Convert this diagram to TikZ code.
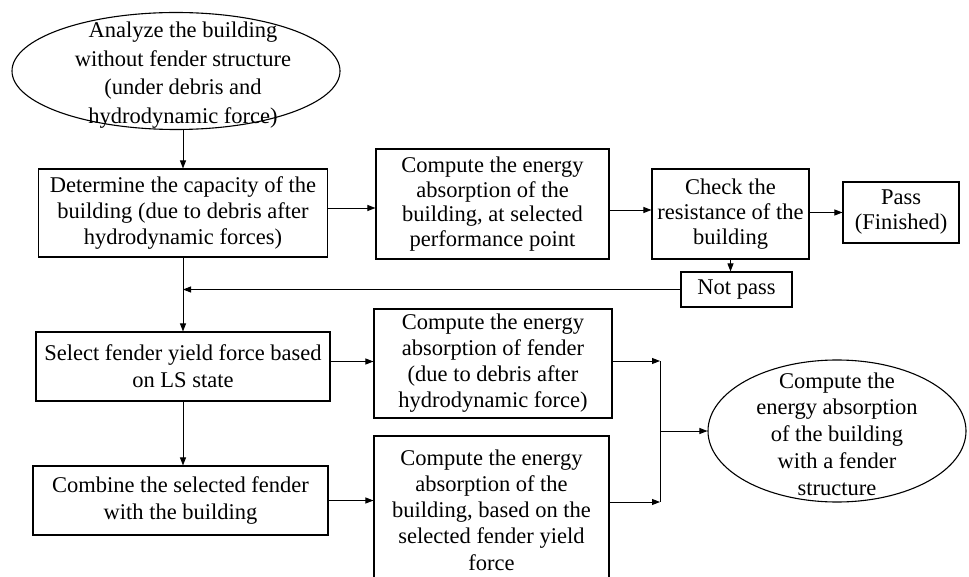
\documentclass[tikz,border=0pt]{standalone}
\usepackage{fontspec}
\setmainfont{Liberation Serif}
\usetikzlibrary{shapes.geometric,arrows.meta}
\tikzset{
  fs/.style={font=\fontsize{22.5}{#1}\selectfont},
  box/.style={draw, line width=1.1pt, inner sep=0pt, align=center},
  oval/.style={draw, ellipse, line width=1.1pt, inner sep=0pt},
  txt/.style={inner sep=0pt, align=center},
  conn/.style={line width=0.9pt},
  arr/.style={conn, -{Triangle[length=8pt,width=6pt]}}
}
\begin{document}
\begin{tikzpicture}[x=1pt,y=-1pt]
\useasboundingbox (0,0) rectangle (969,577);
% top ellipse
\node[oval, minimum width=328pt, minimum height=117pt] (e1) at (176,71) {};
\node[txt, fs=28.5] (e1t) at (183,75) {Analyze the building\\without fender structure\\(under debris and\\hydrodynamic force)};
% boxes
\node[box, fs=26, minimum width=289pt, minimum height=88pt] (b1) at (183,213) {Determine the capacity of the\\building (due to debris after\\hydrodynamic forces)};
\node[box, fs=24.5, minimum width=233pt, minimum height=110pt] (b2) at (492.5,204) {Compute the energy\\absorption of the\\building, at selected\\performance point};
\node[box, fs=25, minimum width=157pt, minimum height=90pt] (b3) at (730.5,214) {Check the\\resistance of the\\building};
\node[box, fs=25, minimum width=116pt, minimum height=61pt] (pass) at (901,212.5) {Pass\\(Finished)};
\node[box, fs=25, minimum width=111pt, minimum height=35pt] (np) at (736.5,289.5) {Not pass};
\node[box, fs=27, minimum width=294pt, minimum height=69pt] (b4) at (183,366.5) {Select fender yield force based\\on LS state};
\node[box, fs=27, minimum width=295pt, minimum height=69pt] (b5) at (180.5,500.5) {Combine the selected fender\\with the building};
\node[box, fs=26, minimum width=238pt, minimum height=109pt] (b6) at (493,363.5) {Compute the energy\\absorption of fender\\(due to debris after\\hydrodynamic force)};
\node[box, fs=26.3, minimum width=235pt, minimum height=148pt] (b7) at (491.5,510) {Compute the energy\\absorption of the\\building, based on the\\selected fender yield\\force};
% right ellipse
\node[oval, minimum width=258pt, minimum height=142pt] (e2) at (837,431) {};
\node[txt, fs=26.7] (e2t) at (837,434) {Compute the\\energy absorption\\of the building\\with a fender\\structure};
% junction coordinates
\coordinate (j1) at (660,361);
\coordinate (j2) at (660,502);
\coordinate (j3) at (660,431);
\coordinate (r23) at (0,210);
% connectors
\draw[arr] (b1.north |- e1.south) -- (b1.north);
\draw[arr] ([yshift=5pt]b1.east) -- ([yshift=5pt]b1.east -| b2.west);
\draw[arr] (b2.east |- r23) -- (b3.west |- r23);
\draw[arr] (b3.east |- pass.west) -- (pass.west);
\draw[arr] (b3.south) -- (b3.south |- np.north);
\draw[arr] (np.west) -- (b1.south |- np.west);
\draw[arr] (b1.south) -- (b4.north);
\draw[arr] (b4.south) -- (b4.south |- b5.north);
\draw[arr] ([yshift=5pt]b4.east) -- ([yshift=5pt]b4.east -| b6.west);
\draw[arr] (b5.east) -- (b5.east -| b7.west);
\draw[arr] (b6.east |- j1) -- (j1);
\draw[arr] (b7.east |- j2) -- (j2);
\draw[conn] (j1) -- (j2);
\draw[arr] (j3) -- (e2.west);
\end{tikzpicture}
\end{document}
